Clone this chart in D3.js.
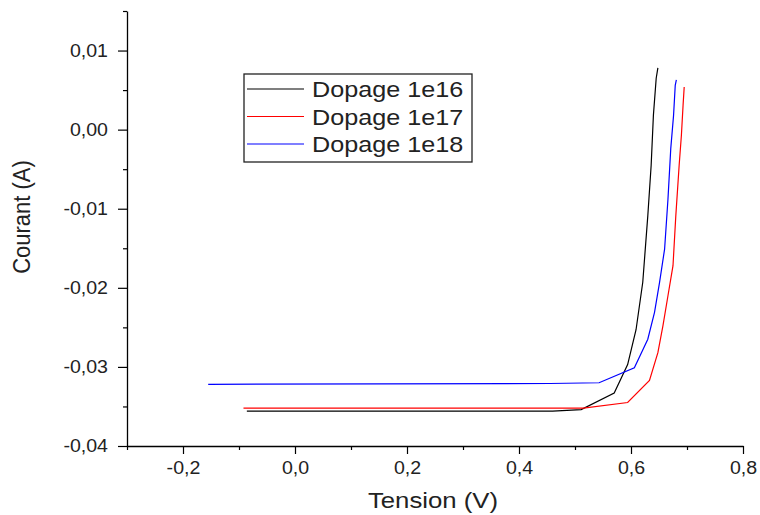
<!DOCTYPE html>
<html>
<head>
<meta charset="utf-8">
<script src="https://cdn.jsdelivr.net/npm/d3@7"></script>
<style>
  html, body { margin: 0; padding: 0; background: #fff; }
  svg { display: block; font-family: "Liberation Sans", Arial, sans-serif; }
</style>
</head>
<body>
<svg id="chart" width="760" height="515"></svg>
<script>
// I-V characteristics of a PN junction for three doping levels
const seriesNames = ["Dopage 1e16", "Dopage 1e17", "Dopage 1e18"];
const seriesColors = ["#000000", "#ff0000", "#0000ff"];

const tension1e16 = [-0.086, 0.460, 0.511, 0.570, 0.594, 0.609, 0.621, 0.630, 0.636, 0.640, 0.645, 0.648];
const courant1e16 = [-0.0356, -0.0356, -0.0354, -0.0333, -0.0297, -0.0253, -0.0193, -0.0109, -0.0045, 0.0018, 0.0065, 0.0078];

const tension1e17 = [-0.092, 0.515, 0.594, 0.633, 0.648, 0.657, 0.666, 0.675, 0.680, 0.686, 0.690, 0.693, 0.695];
const courant1e17 = [-0.0352, -0.0352, -0.0345, -0.0317, -0.0282, -0.0248, -0.0210, -0.0172, -0.0109, -0.0045, -0.0007, 0.0031, 0.0054];

const tension1e18 = [-0.155, 0.455, 0.543, 0.606, 0.630, 0.642, 0.651, 0.660, 0.666, 0.671, 0.676, 0.679, 0.681];
const courant1e18 = [-0.0322, -0.0321, -0.0320, -0.0301, -0.0265, -0.0231, -0.0193, -0.0151, -0.0088, -0.0024, 0.0018, 0.0056, 0.0063];

const xTicks = [-0.2, 0.0, 0.2, 0.4, 0.6, 0.8];
const yTicks = [-0.04, -0.03, -0.02, -0.01, 0.00, 0.01];
const xMinorTicks = [-0.3, -0.1, 0.1, 0.3, 0.5, 0.7];
const yMinorTicks = [-0.035, -0.025, -0.015, -0.005, 0.005, 0.015];

const tensions = [tension1e16, tension1e17, tension1e18];
const courants = [courant1e16, courant1e17, courant1e18];
const series = seriesNames.map((name, i) => ({
  name, color: seriesColors[i],
  points: tensions[i].map((v, j) => [v, courants[i][j]])
}));

const svg = d3.select("#chart");
const plotLeft = 127, plotRight = 743, plotTop = 11, plotBottom = 446;
const stretch = 1.12;            // text is drawn slightly wide
const textColor = "#222";

const x = d3.scaleLinear().domain([-0.3, 0.8]).range([plotLeft, plotRight]);
const y = d3.scaleLinear().domain([-0.04, 0.015]).range([plotBottom, plotTop]);

const fmt = d => d3.format(".1f")(d).replace(".", ",").replace("−", "-");
const fmtY = d => d3.format(".2f")(d).replace(".", ",").replace("−", "-");

// X axis
const gx = svg.append("g").attr("transform", `translate(0,${plotBottom})`);
gx.call(d3.axisBottom(x).tickValues(xTicks).tickFormat(fmt).tickSize(8).tickSizeOuter(0));
gx.append("g").call(d3.axisBottom(x).tickValues(xMinorTicks).tickFormat("").tickSize(4).tickSizeOuter(0))
  .select(".domain").remove();

// Y axis
const gy = svg.append("g").attr("transform", `translate(${plotLeft},0)`);
gy.call(d3.axisLeft(y).tickValues(yTicks).tickFormat(fmtY).tickSize(9).tickSizeOuter(0));
gy.append("g").call(d3.axisLeft(y).tickValues(yMinorTicks).tickFormat("").tickSize(4).tickSizeOuter(0))
  .select(".domain").remove();

svg.selectAll(".domain").attr("stroke", "#000").attr("stroke-width", 1.3);
svg.selectAll(".tick line").attr("stroke", "#000").attr("stroke-width", 1.2);
svg.selectAll(".tick text").attr("fill", textColor).attr("font-size", 17.5)
  .attr("font-family", "'Liberation Sans', Arial, sans-serif");
gx.selectAll(".tick text").attr("y", 28).attr("dy", null)
  .attr("transform", `scale(${stretch},1)`);
gy.selectAll(".tick text").attr("x", -19 / stretch).attr("dy", "0.34em")
  .attr("transform", `scale(${stretch},1)`);

// Axis titles
svg.append("text")
  .attr("transform", `translate(${(plotLeft + plotRight) / 2 - 2},508) scale(${stretch},1)`)
  .attr("text-anchor", "middle").attr("font-size", 23).attr("fill", textColor)
  .text("Tension (V)");
svg.append("text")
  .attr("transform", `translate(30,217) scale(${stretch},1) rotate(-90)`)
  .attr("text-anchor", "middle").attr("font-size", 22).attr("fill", textColor)
  .text("Courant (A)");

// Curves
const line = d3.line().x(d => x(d[0])).y(d => y(d[1]));
svg.append("g").selectAll("path").data(series).join("path")
  .attr("d", d => line(d.points))
  .attr("fill", "none")
  .attr("stroke", d => d.color)
  .attr("stroke-width", 1.2);

// Legend
const lg = svg.append("g").attr("transform", "translate(244,74)");
lg.append("rect").attr("width", 228).attr("height", 88)
  .attr("fill", "#fff").attr("stroke", "#222").attr("stroke-width", 1.3);
const rows = lg.selectAll("g.row").data(series).join("g")
  .attr("class", "row")
  .attr("transform", (d, i) => `translate(0,${15 + i * 27.5})`);
rows.append("line").attr("x1", 3).attr("x2", 60).attr("y1", 0).attr("y2", 0)
  .attr("stroke", d => d.color).attr("stroke-width", 1.2);
rows.append("text")
  .attr("transform", `translate(68,8) scale(${stretch},1)`)
  .attr("font-size", 22.5).attr("fill", textColor)
  .text(d => d.name);
</script>
</body>
</html>
